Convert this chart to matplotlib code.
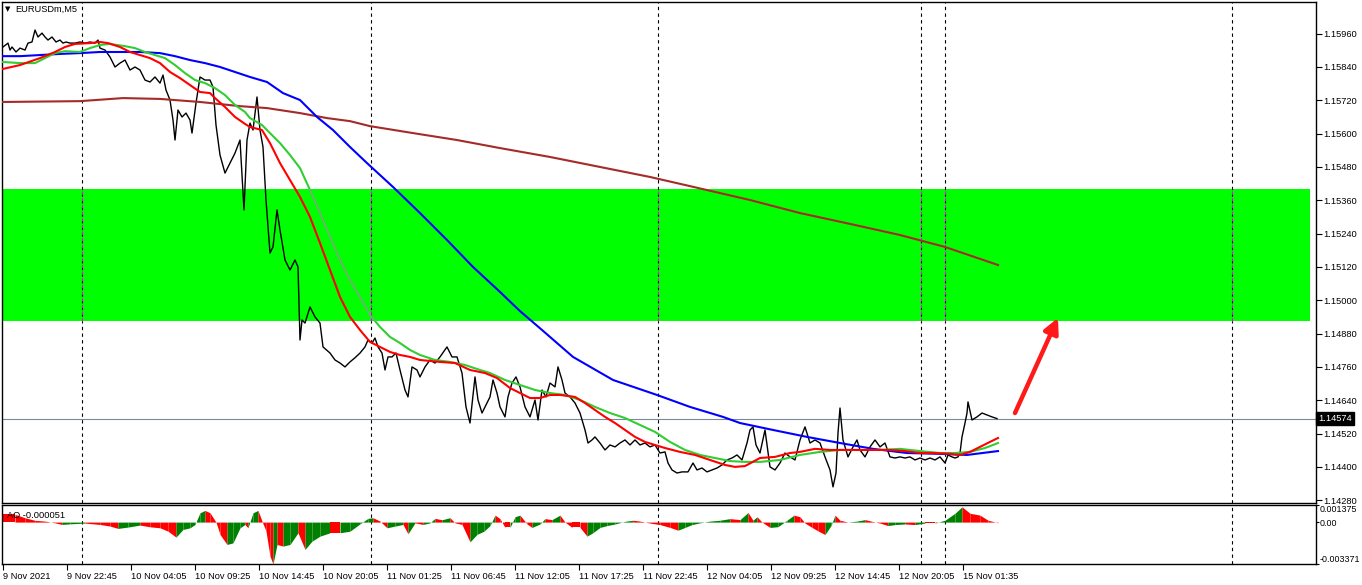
import numpy as np
import matplotlib.pyplot as plt
from matplotlib.patches import Rectangle
from matplotlib.transforms import blended_transform_factory

plt.rcParams['font.family'] = ['Liberation Sans', 'DejaVu Sans']

# one M5 bar per pixel column, bar 0 at the left edge of the chart
bars = [0, 3, 8, 10, 12, 16, 20, 25, 28, 32, 35, 38, 42, 45, 48, 52, 56, 60, 63, 66, 70, 75, 80, 85, 90, 95, 98,
        100, 105, 110, 115, 120, 125, 130, 135, 140, 145, 150, 155, 160, 163, 166, 170, 173, 175, 178, 182, 186,
        190, 192, 196, 200, 205, 210, 213, 216, 220, 225, 230, 235, 240, 244, 247, 250, 253, 257, 260, 263, 266,
        270, 273, 277, 280, 285, 290, 295, 298, 300, 302, 305, 310, 315, 320, 323, 330, 335, 340, 345, 350, 355,
        360, 365, 368, 372, 375, 378, 382, 385, 388, 392, 396, 400, 405, 408, 412, 417, 420, 425, 430, 435, 440,
        447, 452, 457, 462, 466, 470, 475, 478, 482, 487, 490, 493, 497, 500, 505, 508, 512, 516, 520, 525, 530,
        535, 538, 542, 546, 550, 555, 558, 562, 565, 570, 575, 580, 583, 585, 588, 592, 595, 600, 605, 610, 615,
        620, 625, 630, 635, 640, 645, 650, 655, 660, 665, 668, 672, 677, 682, 688, 693, 697, 702, 707, 712, 717,
        722, 727, 732, 737, 742, 747, 750, 753, 756, 760, 765, 770, 775, 780, 785, 790, 795, 800, 805, 810, 815,
        820, 825, 830, 833, 836, 838, 840, 843, 848, 853, 857, 860, 865, 870, 875, 880, 885, 890, 895, 900, 905,
        910, 915, 920, 925, 930, 935, 940, 945, 948, 952, 955, 958, 960, 962, 965, 967, 968, 972, 977, 982, 987,
        992, 997]
close = [1.15908, 1.15912, 1.15926, 1.15901, 1.15912, 1.15894, 1.15908, 1.15901, 1.15926, 1.15930, 1.15973,
         1.15948, 1.15962, 1.15948, 1.15937, 1.15948, 1.15930, 1.15937, 1.15926, 1.15930, 1.15926, 1.15926,
         1.15930, 1.15926, 1.15930, 1.15926, 1.15937, 1.15908, 1.15901, 1.15876, 1.15840, 1.15854, 1.15865,
         1.15829, 1.15840, 1.15829, 1.15793, 1.15786, 1.15804, 1.15782, 1.15811, 1.15757, 1.15721, 1.15649,
         1.15577, 1.15685, 1.15660, 1.15674, 1.15649, 1.15602, 1.15710, 1.15804, 1.15793, 1.15793, 1.15768,
         1.15631, 1.15523, 1.15458, 1.15494, 1.15530, 1.15577, 1.15325, 1.15577, 1.15638, 1.15613, 1.15732,
         1.15613, 1.15552, 1.15361, 1.15170, 1.15192, 1.15325, 1.15253, 1.15145, 1.15109, 1.15145, 1.15120,
         1.14857, 1.14929, 1.14918, 1.14976, 1.14940, 1.14918, 1.14832, 1.14810, 1.14785, 1.14774, 1.14760,
         1.14778, 1.14793, 1.14810, 1.14832, 1.14857, 1.14846, 1.14864, 1.14832, 1.14810, 1.14749, 1.14796,
         1.14796, 1.14810, 1.14749, 1.14677, 1.14652, 1.14760, 1.14749, 1.14724, 1.14760, 1.14785, 1.14774,
         1.14796, 1.14832, 1.14796, 1.14796, 1.14738, 1.14616, 1.14558, 1.14724, 1.14641, 1.14594, 1.14630,
         1.14652, 1.14713, 1.14666, 1.14616, 1.14580, 1.14652, 1.14702, 1.14724, 1.14688, 1.14616, 1.14580,
         1.14641, 1.14569, 1.14677, 1.14652, 1.14702, 1.14688, 1.14760, 1.14713, 1.14666, 1.14652, 1.14630,
         1.14594, 1.14558, 1.14533, 1.14486, 1.14497, 1.14508, 1.14486, 1.14461, 1.14479, 1.14472, 1.14486,
         1.14497, 1.14479, 1.14497, 1.14479, 1.14486, 1.14472, 1.14479, 1.14450, 1.14454, 1.14414, 1.14389,
         1.14378, 1.14382, 1.14382, 1.14414, 1.14389, 1.14396, 1.14382, 1.14389, 1.14396, 1.14407, 1.14425,
         1.14432, 1.14443, 1.14425, 1.14486, 1.14533, 1.14544, 1.14479, 1.14450, 1.14533, 1.14400, 1.14389,
         1.14414, 1.14450, 1.14436, 1.14425, 1.14497, 1.14544, 1.14486, 1.14497, 1.14486, 1.14436, 1.14389,
         1.14328, 1.14378, 1.14522, 1.14612, 1.14497, 1.14436, 1.14472, 1.14497, 1.14461, 1.14436, 1.14472,
         1.14497, 1.14472, 1.14486, 1.14436, 1.14432, 1.14436, 1.14432, 1.14436, 1.14425, 1.14432, 1.14425,
         1.14432, 1.14425, 1.14436, 1.14414, 1.14443, 1.14436, 1.14432, 1.14436, 1.14450, 1.14508, 1.14558,
         1.14594, 1.14634, 1.14569, 1.14580, 1.14594, 1.14587, 1.14580, 1.14574]

ma_red_x = [3, 20, 40, 55, 65, 75, 90, 100, 108, 120, 130, 140, 150, 160, 170, 180, 190, 200, 210, 215, 225, 235,
            245, 250, 262, 270, 280, 290, 300, 310, 320, 330, 340, 350, 360, 370, 380, 390, 400, 410, 420, 440,
            455, 470, 485, 497, 510, 520, 530, 540, 550, 560, 575, 585, 595, 605, 615, 625, 635, 645, 655, 665,
            680, 695, 710, 725, 735, 745, 760, 775, 790, 800, 815, 830, 860, 890, 905, 920, 935, 950, 960, 970,
            980, 990, 998]
ma_red = [1.15833, 1.15847, 1.15872, 1.15894, 1.15912, 1.15923, 1.15926, 1.15930, 1.15926, 1.15912, 1.15894,
          1.15883, 1.15872, 1.15854, 1.15822, 1.15800, 1.15775, 1.15750, 1.15746, 1.15728, 1.15696, 1.15660,
          1.15635, 1.15624, 1.15613, 1.15566, 1.15494, 1.15433, 1.15372, 1.15300, 1.15206, 1.15109, 1.15012,
          1.14940, 1.14893, 1.14850, 1.14832, 1.14814, 1.14803, 1.14796, 1.14785, 1.14778, 1.14774, 1.14749,
          1.14738, 1.14720, 1.14684, 1.14666, 1.14648, 1.14648, 1.14659, 1.14659, 1.14652, 1.14630, 1.14605,
          1.14580, 1.14558, 1.14533, 1.14508, 1.14490, 1.14479, 1.14468, 1.14454, 1.14443, 1.14425, 1.14407,
          1.14400, 1.14403, 1.14432, 1.14436, 1.14450, 1.14454, 1.14465, 1.14461, 1.14461, 1.14461, 1.14457,
          1.14450, 1.14450, 1.14447, 1.14443, 1.14454, 1.14472, 1.14490, 1.14504]

ma_green_x = [3, 20, 35, 45, 55, 65, 80, 90, 100, 110, 125, 135, 145, 155, 165, 175, 185, 195, 205, 215, 225, 235,
              245, 250, 262, 270, 280, 290, 300, 310, 320, 330, 340, 350, 360, 370, 380, 390, 400, 410, 420, 435,
              450, 465, 480, 490, 505, 520, 535, 550, 565, 580, 595, 610, 625, 640, 655, 670, 685, 700, 715, 730,
              745, 760, 780, 800, 820, 840, 860, 880, 900, 920, 940, 955, 970, 985, 998]
ma_green = [1.15858, 1.15854, 1.15854, 1.15872, 1.15890, 1.15897, 1.15894, 1.15908, 1.15919, 1.15923, 1.15915,
            1.15908, 1.15894, 1.15883, 1.15872, 1.15847, 1.15818, 1.15793, 1.15782, 1.15764, 1.15739, 1.15703,
            1.15678, 1.15656, 1.15631, 1.15602, 1.15566, 1.15523, 1.15476, 1.15397, 1.15314, 1.15228, 1.15145,
            1.15073, 1.15012, 1.14947, 1.14904, 1.14868, 1.14846, 1.14821, 1.14803, 1.14785, 1.14778, 1.14767,
            1.14749, 1.14738, 1.14713, 1.14695, 1.14677, 1.14666, 1.14659, 1.14641, 1.14616, 1.14594, 1.14576,
            1.14551, 1.14526, 1.14490, 1.14461, 1.14443, 1.14432, 1.14421, 1.14418, 1.14418, 1.14425, 1.14443,
            1.14454, 1.14461, 1.14461, 1.14461, 1.14465, 1.14457, 1.14450, 1.14450, 1.14454, 1.14468, 1.14486]

ma_blue_x = [3, 20, 40, 60, 80, 100, 120, 140, 160, 175, 190, 205, 220, 235, 250, 267, 283, 300, 317, 333, 350,
             367, 393, 420, 447, 473, 500, 520, 542, 573, 613, 657, 690, 723, 740, 773, 807, 840, 873, 907, 940,
             967, 998]
ma_blue = [1.15879, 1.15879, 1.15883, 1.15887, 1.15890, 1.15894, 1.15894, 1.15894, 1.15890, 1.15879, 1.15865,
           1.15854, 1.15840, 1.15822, 1.15804, 1.15786, 1.15746, 1.15721, 1.15660, 1.15613, 1.15552, 1.15494,
           1.15408, 1.15314, 1.15217, 1.15120, 1.15030, 1.14961, 1.14893, 1.14796, 1.14713, 1.14659, 1.14616,
           1.14580, 1.14558, 1.14533, 1.14508, 1.14486, 1.14465, 1.14450, 1.14447, 1.14443, 1.14457]

ma_brown_x = [3, 80, 123, 160, 200, 240, 267, 300, 327, 350, 370, 413, 457, 500, 550, 600, 650, 690, 750, 800, 850,
              900, 945, 998]
ma_brown = [1.15714, 1.15717, 1.15728, 1.15725, 1.15714, 1.15699, 1.15692, 1.15674, 1.15656, 1.15645, 1.15627,
            1.15602, 1.15577, 1.15548, 1.15516, 1.15480, 1.15444, 1.15411, 1.15361, 1.15314, 1.15275, 1.15235,
            1.15192, 1.15127]

ao_x = [0, 15, 25, 35, 45, 55, 62, 70, 85, 100, 110, 118, 128, 140, 150, 160, 168, 176, 183, 190, 195, 200, 205,
        210, 216, 220, 227, 233, 240, 245, 248, 253, 258, 262, 266, 270, 273, 277, 283, 290, 298, 305, 312, 320,
        330, 340, 350, 360, 368, 373, 380, 387, 395, 403, 408, 415, 423, 430, 435, 442, 450, 455, 462, 470, 477,
        484, 490, 495, 500, 505, 510, 515, 520, 527, 532, 540, 545, 552, 560, 565, 572, 580, 587, 593, 600, 607,
        615, 625, 633, 640, 650, 660, 670, 678, 685, 692, 700, 710, 720, 730, 740, 748, 753, 757, 762, 770, 778,
        787, 794, 800, 805, 812, 818, 825, 831, 835, 840, 848, 857, 865, 872, 880, 888, 895, 905, 915, 925, 935,
        945, 955, 962, 970, 980, 988, 998]
ao = [0.00062, 0.00062, 0.00035, 0.00014, 0.00008, -0.00006, -0.00019, -0.00014, -0.00008, -0.00019, -0.00032,
      -0.00051, -0.00040, -0.00024, -0.00038, -0.00046, -0.00073, -0.00121, -0.00059, -0.00046, -0.00019, 0.00075,
      0.00094, 0.00075, 0.0, -0.00099, -0.00180, -0.00167, -0.00046, -0.00019, -0.00046, 0.00075, 0.00094,
      0.00008, -0.00073, -0.00274, -0.00337, -0.00180, -0.00193, -0.00180, -0.00086, -0.00220, -0.00153,
      -0.00113, -0.00086, -0.00086, -0.00073, -0.00014, 0.00030, 0.00035, 0.00008, -0.00046, -0.00032, -0.00019,
      -0.00094, -0.00006, -0.00019, -0.00006, 0.00030, 0.00019, 0.00035, -0.00006, -0.00019, -0.00159, -0.00099,
      -0.00073, -0.00028, 0.00056, 0.00028, -0.00043, -0.00043, 0.00043, 0.00056, -0.00015, -0.00043, -0.00015,
      0.00028, 0.00020, 0.00056, 0.0, -0.00043, -0.00043, -0.00113, -0.00085, -0.00043, -0.00028, -0.00015,
      0.00006, 0.00015, 0.00008, -0.00008, -0.00020, -0.00043, -0.00065, -0.00043, -0.00020, -0.00006, 0.00008,
      0.00015, 0.00028, 0.00020, 0.00077, 0.00015, 0.00043, 0.0, -0.00043, -0.00037, 0.00015, 0.00056, 0.00043,
      -0.00008, -0.00043, -0.00071, -0.00100, -0.00028, 0.00056, 0.00015, 0.0, 0.00008, 0.00020, 0.00006,
      -0.00008, -0.00028, -0.00020, -0.00015, -0.00020, -0.00008, -0.00008, 0.00015, 0.00071, 0.00123, 0.00071,
      0.00056, 0.00015, -0.00005]

price_ticks = [1.14280, 1.14400, 1.14520, 1.14640, 1.14760, 1.14880, 1.15000, 1.15120, 1.15240, 1.15360,
               1.15480, 1.15600, 1.15720, 1.15840, 1.15960]
time_labels = ['9 Nov 2021', '9 Nov 22:45', '10 Nov 04:05', '10 Nov 09:25', '10 Nov 14:45', '10 Nov 20:05',
               '11 Nov 01:25', '11 Nov 06:45', '11 Nov 12:05', '11 Nov 17:25', '11 Nov 22:45', '12 Nov 04:05',
               '12 Nov 09:25', '12 Nov 14:45', '12 Nov 20:05', '15 Nov 01:35']
time_ticks = [3 + 64 * k for k in range(len(time_labels))]
separators = [82, 371, 658, 921, 945, 1232]
zone = (3, 1310, 1.14925, 1.15400)
last_price = 1.14574
arrow_from = (1015, 1.14594)
arrow_to = (1058, 1.14937)
ao_now = -0.000051
ao_lim = (-0.003371, 0.001375)

W, H = 1362, 585
FS = 6.7


def box(x0, y0, x1, y1):
    return [x0 / W, 1 - y1 / H, (x1 - x0) / W, (y1 - y0) / H]


fig = plt.figure(figsize=(W / 100, H / 100), dpi=100)
ax = fig.add_axes(box(2, 2, 1316, 503))
ax_ao = fig.add_axes(box(2, 505, 1316, 564), sharex=ax)

ax.set_xlim(2, 1316)
ax.set_ylim(1.14270, 1.16074)

zone_rect = Rectangle((zone[0], zone[2]), zone[1] - zone[0], zone[3] - zone[2], facecolor='#00ff00',
                      edgecolor='none', zorder=0)
ax.add_patch(zone_rect)

for sx in separators:
    ax.axvline(sx, color='black', lw=0.8, ls=(0, (3, 3)), zorder=1)
    ax.vlines(sx, zone[2], zone[3], color='#ff00ff', lw=0.8, ls=(0, (3, 3)), zorder=1.1)
    ax_ao.axvline(sx, color='black', lw=0.8, ls=(0, (3, 3)), zorder=1)

ax.axhline(last_price, color='#778899', lw=0.8, zorder=1.5)
ax.plot(bars, close, color='black', lw=1.0, zorder=2)
ax.plot(ma_brown_x, ma_brown, color='#a52a2a', lw=1.5, zorder=3)
ax.plot(ma_blue_x, ma_blue, color='#0000ff', lw=1.5, zorder=3)
ax.plot(ma_green_x, ma_green, color='#32cd32', lw=1.5, zorder=3)
ghost, = ax.plot(ma_green_x, ma_green, color='#7fae7f', lw=1.0, zorder=3.1)
ghost.set_clip_path(zone_rect)
ax.plot(ma_red_x, ma_red, color='#ff0000', lw=1.5, zorder=3.2)

ax.annotate('', xy=arrow_to, xytext=arrow_from,
            arrowprops=dict(arrowstyle='-|>,head_length=0.9,head_width=0.45', color='#ff1a1a', lw=3.2,
                            shrinkA=0, shrinkB=0), zorder=4)

ax.yaxis.tick_right()
ax.set_yticks(price_ticks)
ax.set_yticklabels(['%.5f' % p for p in price_ticks])
ax.tick_params(axis='y', length=4, width=0.8, pad=1.2, labelsize=FS)
ax.tick_params(axis='x', bottom=False, labelbottom=False)

trans = blended_transform_factory(ax.transAxes, ax.transData)
ax.text(1.0015, last_price, '1.14574', transform=trans, color='white', fontsize=FS, va='center', ha='left',
        bbox=dict(boxstyle='square,pad=0.25', facecolor='black', edgecolor='black'))

fig.text(8 / W, 1 - 9 / H, '\u25bc', fontsize=5, va='center', ha='center', family=['DejaVu Sans'])
fig.text(15 / W, 1 - 9 / H, 'EURUSDm,M5', fontsize=FS, va='center', ha='left')

# AO histogram, green while rising, red while falling
ax_ao.set_ylim(*ao_lim)
for i in range(len(ao_x) - 1):
    col = '#008000' if ao[i + 1] > ao[i] else '#ff0000'
    ax_ao.fill_between(ao_x[i:i + 2], 0, ao[i:i + 2], color=col, lw=0, zorder=2)

ax_ao.text(5 / 1314, 1 - 10 / 59, 'AO %.6f' % ao_now, transform=ax_ao.transAxes, fontsize=FS, va='center',
           ha='left', zorder=5)
ax_ao.yaxis.tick_right()
ax_ao.set_yticks([ao_lim[1], 0, ao_lim[0]])
ax_ao.set_yticklabels(['%.6f' % ao_lim[1], '0.00', '%.6f' % ao_lim[0]])
ax_ao.tick_params(axis='y', length=2, width=0.8, pad=0.8, labelsize=6.4)
labs = ax_ao.get_yticklabels()
labs[0].set_va('top')
labs[2].set_va('bottom')

ax_ao.set_xticks(time_ticks)
ax_ao.set_xticklabels(time_labels)
ax_ao.tick_params(axis='x', length=4, width=0.8, pad=2, labelsize=FS)
for lbl in ax_ao.get_xticklabels():
    lbl.set_horizontalalignment('left')

for a in (ax, ax_ao):
    for sp in a.spines.values():
        sp.set_linewidth(1.0)

fig.savefig('out.png', dpi=100, facecolor='white')
